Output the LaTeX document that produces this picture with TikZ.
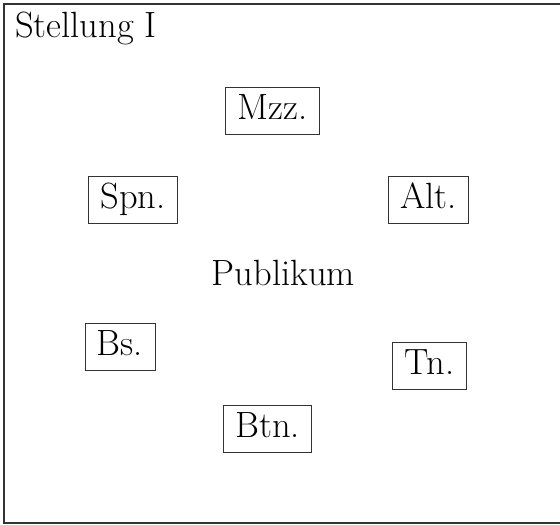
\documentclass[tikz,border=0pt]{standalone}

\tikzset{
  stimme/.style={draw=black!80, line width=0.8pt, inner xsep=12pt, inner ysep=7pt,
    text height=25pt, text depth=8pt, font=\fontsize{36.5}{40}\selectfont},
  beschrift/.style={inner sep=0pt, font=\fontsize{36.5}{40}\selectfont}
}

\begin{document}
\begin{tikzpicture}[x=1pt, y=-1pt]
			\useasboundingbox (0,0) rectangle (560,525);
			\clip (0,0) rectangle (560,525);
			
			% Rahmen
			\draw[black!80, line width=1.4pt] (4,4) rectangle (575,523);
			
			% Titel
			\node[beschrift, anchor=base west] (titel) at (15,37) {Stellung I};
			
			% Stimmen
			\node[stimme] (mzz) at (272.5,110.5) {Mzz.};
			\node[stimme] (spn) at (133,200) {Spn.};
			\node[stimme] (alt) at (428.5,200) {Alt.};
			\node[stimme] (bs) at (120,347) {Bs.};
			\node[stimme] (tn) at (429.5,366) {Tn.};
			\node[stimme] (btn) at (267.5,429) {Btn.};
			
			% Mitte
			\node[beschrift, anchor=base] (publikum) at (283.5,285) {Publikum};
		\end{tikzpicture}
\end{document}
